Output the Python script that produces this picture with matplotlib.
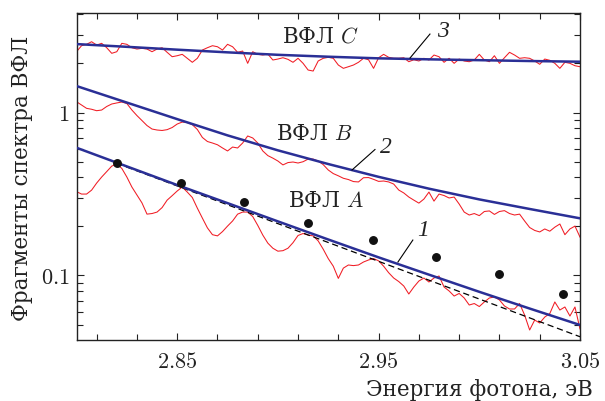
import numpy as np
import matplotlib
matplotlib.use("Agg")
import matplotlib.pyplot as plt
from matplotlib.ticker import FixedLocator, NullFormatter, FixedFormatter

# ---------------- data ----------------
energy_grid = np.linspace(2.80, 3.05, 101)   # sampling of the measured spectra, eV

red_A = [0.327, 0.316, 0.316, 0.334, 0.369, 0.402, 0.434, 0.469, 0.483, 0.454,
         0.402, 0.349, 0.312, 0.279, 0.238, 0.240, 0.245, 0.261, 0.290, 0.309,
         0.330, 0.349, 0.325, 0.301, 0.259, 0.225, 0.196, 0.178, 0.175, 0.186,
         0.201, 0.216, 0.238, 0.245, 0.245, 0.230, 0.203, 0.177, 0.158, 0.147,
         0.141, 0.142, 0.147, 0.159, 0.176, 0.181, 0.177, 0.175, 0.163, 0.145,
         0.127, 0.114, 0.096, 0.111, 0.116, 0.115, 0.116, 0.121, 0.1245, 0.127,
         0.123, 0.114, 0.104, 0.0965, 0.0918, 0.0862, 0.0770, 0.0850, 0.0925, 0.0965,
         0.0912, 0.0965, 0.0993, 0.0850, 0.0804, 0.0748, 0.0776, 0.0728, 0.0659, 0.0673,
         0.0645, 0.0688, 0.0728, 0.0738, 0.0708, 0.0650, 0.0623, 0.0623, 0.0673, 0.0572,
         0.0463, 0.0533, 0.0511, 0.0556, 0.0584, 0.0688, 0.0614, 0.0641, 0.0564, 0.0641,
         0.047]

red_B = [1.165, 1.112, 1.061, 1.047, 1.026, 1.036, 1.089, 1.128, 1.145, 1.160,
         1.136, 1.036, 0.958, 0.893, 0.832, 0.792, 0.781, 0.776, 0.785, 0.809,
         0.850, 0.874, 0.868, 0.842, 0.787, 0.703, 0.664, 0.650, 0.634, 0.606,
         0.581, 0.614, 0.606, 0.650, 0.718, 0.698, 0.650, 0.581, 0.544, 0.525,
         0.504, 0.477, 0.493, 0.497, 0.490, 0.499, 0.518, 0.518, 0.504, 0.479,
         0.444, 0.422, 0.409, 0.395, 0.388, 0.377, 0.375, 0.398, 0.399, 0.389,
         0.378, 0.380, 0.375, 0.364, 0.3345, 0.321, 0.303, 0.290, 0.278, 0.2945,
         0.325, 0.286, 0.316, 0.3095, 0.299, 0.303, 0.2745, 0.245, 0.235, 0.240,
         0.233, 0.247, 0.249, 0.237, 0.247, 0.250, 0.240, 0.235, 0.238, 0.216,
         0.197, 0.189, 0.185, 0.193, 0.187, 0.198, 0.207, 0.178, 0.193, 0.201,
         0.172]

red_C = [2.361, 2.570, 2.621, 2.719, 2.595, 2.658, 2.498, 2.308, 2.361, 2.658,
         2.621, 2.498, 2.452, 2.477, 2.452, 2.361, 2.452, 2.498, 2.341, 2.200,
         2.231, 2.275, 2.151, 2.033, 2.151, 2.418, 2.498, 2.570, 2.533, 2.418,
         2.621, 2.533, 2.341, 2.384, 2.004, 2.361, 2.275, 2.253, 2.285, 2.100,
         2.129, 2.169, 2.120, 2.033, 2.151, 2.004, 1.823, 1.797, 2.071, 2.151,
         2.181, 2.151, 1.956, 1.867, 1.910, 1.956, 2.033, 2.151, 2.108, 1.867,
         2.169, 2.275, 2.181, 2.151, 2.151, 2.169, 2.050, 2.108, 2.071, 2.151,
         2.100, 2.253, 2.200, 2.033, 2.151, 2.004, 2.129, 2.071, 2.050, 2.100,
         2.275, 2.100, 2.050, 2.231, 2.004, 2.169, 2.341, 2.253, 2.151, 2.169,
         2.151, 2.071, 1.977, 2.129, 2.091, 2.004, 1.867, 2.033, 2.004, 1.937,
         1.910]

fit_energy = [2.800, 2.825, 2.850, 2.875, 2.900, 2.925, 2.950, 2.975, 3.000, 3.025, 3.050]
fit_A = [0.608, 0.467, 0.359, 0.278, 0.2148, 0.1663, 0.1292, 0.1012, 0.0794, 0.0627, 0.0497]
fit_B = [1.454, 1.151, 0.911, 0.724, 0.586, 0.483, 0.403, 0.341, 0.293, 0.256, 0.2243]
fit_C = [2.63, 2.53, 2.43, 2.34, 2.26, 2.20, 2.15, 2.12, 2.095, 2.07, 2.05]

dash_energy = [2.82, 3.05]
dash_value = [0.488, 0.0421]

peak_energy = [2.8200, 2.8517, 2.8832, 2.9151, 2.9471, 2.9785, 3.0099, 3.0417]
peak_value = [0.488, 0.371, 0.2817, 0.2108, 0.1651, 0.1293, 0.1021, 0.0767]

x_major = [2.85, 2.95, 3.05]
x_major_labels = ["$2.85$", "$2.95$", "$3.05$"]
x_minor = [2.81, 2.83, 2.87, 2.89, 2.91, 2.93, 2.97, 2.99, 3.01, 3.03]
y_major = [0.1, 1.0]
y_major_labels = ["$0.1$", "$1$"]
y_minor = [0.05, 0.06, 0.07, 0.08, 0.09, 0.2, 0.3, 0.4, 0.5, 0.6, 0.7, 0.8, 0.9, 2, 3, 4]

x_label = "Энергия фотона, эВ"
y_label = "Фрагменты спектра ВФЛ"
curve_names = ["ВФЛ $A$", "ВФЛ $B$", "ВФЛ $C$"]
curve_numbers = ["1", "2", "3"]

# ---------------- style ----------------
plt.rcParams['font.family'] = ['DejaVu Serif']
plt.rcParams['mathtext.fontset'] = 'cm'

RED = '#f01c24'
BLUE = '#2a2f96'
TXT = '#222222'
FS = 16
FS_CYR = 15.5

fig = plt.figure(figsize=(6.05, 4.01), dpi=100)
ax = fig.add_axes([76.5/605, 1 - 340/401, (580 - 76.5)/605, (340 - 13)/401])
ax.set_yscale('log')

for series in (red_A, red_B, red_C):
    ax.plot(energy_grid, series, color=RED, lw=0.75, zorder=2)

ax.plot(dash_energy, dash_value, color='black', lw=0.9, ls=(0, (5, 3)), zorder=3)

for fit in (fit_A, fit_B, fit_C):
    ax.plot(fit_energy, fit, color=BLUE, lw=1.8, zorder=4)

ax.plot(peak_energy, peak_value, 'o', color='#111111', ms=5.4, zorder=5)

ax.set_xlim(2.80, 3.05)
ax.set_ylim(0.0402, 4.08)

ax.xaxis.set_major_locator(FixedLocator(x_major))
ax.xaxis.set_major_formatter(FixedFormatter(x_major_labels))
ax.xaxis.set_minor_locator(FixedLocator(x_minor))
ax.xaxis.set_minor_formatter(NullFormatter())
ax.yaxis.set_major_locator(FixedLocator(y_major))
ax.yaxis.set_major_formatter(FixedFormatter(y_major_labels))
ax.yaxis.set_minor_locator(FixedLocator(y_minor))
ax.yaxis.set_minor_formatter(NullFormatter())

ax.tick_params(which='both', direction='in', top=True, right=True, width=0.8,
               labelsize=FS, color=TXT, labelcolor=TXT)
ax.tick_params(which='major', length=5)
ax.tick_params(which='minor', length=4)
ax.tick_params(axis='x', pad=8)
ax.tick_params(axis='y', pad=5)
for s in ax.spines.values():
    s.set_linewidth(1.0)
    s.set_color(TXT)

# annotations
name_pos = [(2.9239, 0.2865), (2.9179, 0.738), (2.9209, 2.946)]
for (xx, yy), name in zip(name_pos, curve_names):
    ax.text(xx, yy, name, fontsize=FS_CYR, ha='center', va='center', color=TXT)

num_pos = [(2.972, 0.190), (2.9536, 0.614), (2.982, 3.16)]
for (xx, yy), num in zip(num_pos, curve_numbers):
    ax.text(xx, yy, num, fontsize=17, ha='center', va='center', color=TXT,
            family='Liberation Serif', style='italic')

leaders = [([2.9596, 2.967], [0.121, 0.165]),
           ([2.9368, 2.9482], [0.444, 0.593]),
           ([2.9656, 2.9755], [2.16, 3.03])]
for lx, ly in leaders:
    ax.plot(lx, ly, color='black', lw=0.8, zorder=6)

fig.text(479.5/605, 1 - 390/401, x_label, fontsize=FS_CYR, ha='center', va='center', color=TXT)
fig.text(22.5/605, 1 - 178.5/401, y_label, fontsize=FS_CYR, ha='center', va='center',
         rotation=90, color=TXT)

fig.savefig('out.png', dpi=100)
